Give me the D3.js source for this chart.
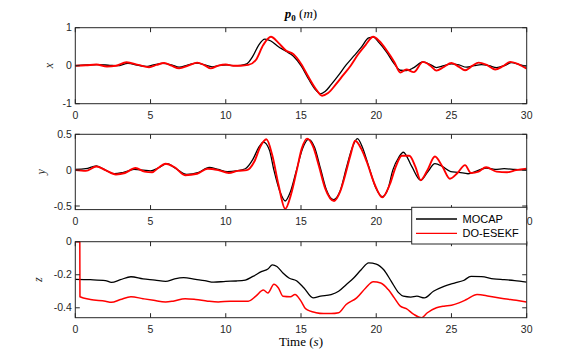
<!DOCTYPE html>
<html>
<head>
<meta charset="utf-8">
<script src="https://cdn.jsdelivr.net/npm/d3@7"></script>
<style>
  body { margin: 0; background: #fff; }
  svg { display: block; }
</style>
</head>
<body>
<div id="chart"></div>
<script>
// time axis
const xTicks = [0, 5, 10, 15, 20, 25, 30];

// x component
const mocapXt = [0,0.8,1.5,2.3,2.8,3.5,4.2,4.7,5.2,5.8,6.4,6.9,7.5,8.1,8.6,9.1,9.6,10.1,10.6,11,11.4,11.8,12.2,12.6,13.0,13.5,14.0,14.5,15.0,15.5,16.0,16.3,16.6,17.0,17.5,18.0,18.5,19.0,19.5,19.8,20.2,20.7,21.2,21.6,22.0,22.5,23.1,23.6,24.0,24.5,25.0,25.5,26.0,26.5,27.0,27.5,28.0,28.5,29.0,29.5,30];
const mocapX  = [0,0.02,0.03,0.01,0,0.06,0.01,-0.02,0.02,0.06,0.02,-0.04,0.02,0.07,0.02,-0.03,0.01,0.02,0,0.01,0.05,0.25,0.55,0.7,0.65,0.5,0.38,0.25,0.0,-0.35,-0.65,-0.74,-0.68,-0.5,-0.25,0.02,0.25,0.48,0.73,0.75,0.6,0.35,0.05,-0.12,-0.13,-0.05,0.1,0.03,-0.05,0.0,0.05,0.02,-0.04,0.0,0.03,0.0,-0.05,0.0,0.08,0.03,-0.01];
const ekfXt = [0,0.7,1.4,2.1,2.7,3.4,4.2,4.9,5.4,5.9,6.4,6.9,7.5,8.1,8.6,9.0,9.5,10.0,10.5,11.0,11.5,12.0,12.5,13.0,13.5,14.0,14.5,15.0,15.5,16.0,16.4,16.8,17.3,17.8,18.3,18.8,19.3,19.8,20.2,20.7,21.2,21.6,22.0,22.5,23.1,23.6,24.0,24.5,25.0,25.5,25.9,26.4,26.8,27.3,27.9,28.4,28.9,29.5,30];
const ekfX  = [0,0.01,0.03,-0.02,0.0,0.09,0.02,-0.04,0.02,0.07,0.0,-0.07,0.0,0.08,0.01,-0.07,0.0,0.03,0.0,0.0,0.02,0.15,0.55,0.76,0.6,0.4,0.3,0.05,-0.3,-0.62,-0.79,-0.72,-0.5,-0.25,0.0,0.3,0.55,0.76,0.65,0.4,0.1,-0.18,-0.1,-0.17,0.1,0.0,-0.13,-0.03,0.07,-0.03,-0.12,0.0,0.08,0.03,-0.1,-0.02,0.1,0.03,-0.08];

// y component
const mocapYt = [0,0.7,1.4,2.0,2.6,3.2,3.9,4.5,5.0,5.5,6.1,6.7,7.4,8.2,8.9,9.5,10.1,10.7,11.3,11.8,12.2,12.5,12.9,13.2,13.6,13.95,14.3,14.7,15.1,15.5,15.9,16.3,16.7,17.15,17.6,18.0,18.4,18.75,19.1,19.5,20.0,20.4,20.8,21.1,21.5,21.8,22.35,22.95,23.4,23.9,24.4,24.95,25.5,26.1,26.7,27.3,27.9,28.5,29.2,30];
const mocapY  = [0.01,0.02,0.06,0.0,-0.05,-0.03,0.01,0.0,-0.01,0.03,0.09,0.02,-0.06,-0.03,0.04,0.01,-0.02,-0.01,0.02,0.15,0.32,0.39,0.28,0.0,-0.3,-0.43,-0.3,0.0,0.3,0.43,0.32,0.02,-0.28,-0.41,-0.29,0.02,0.31,0.44,0.31,0.05,-0.26,-0.37,-0.25,0.0,0.18,0.25,0.055,-0.14,-0.03,0.09,0.05,-0.02,-0.03,-0.05,-0.01,0.03,0.01,0.02,0.01,0.0];
const ekfYt = [0,0.7,1.4,2.0,2.7,3.3,4.0,4.6,5.1,5.5,6.0,6.6,7.3,8.1,8.8,9.5,10.2,10.8,11.4,11.9,12.3,12.7,13.1,13.5,13.95,14.35,14.7,15.05,15.4,15.8,16.2,16.6,17.2,17.6,18.0,18.3,18.6,19.0,19.4,19.9,20.4,20.9,21.3,21.7,22.2,22.6,22.95,23.4,23.9,24.4,24.9,25.4,25.9,26.3,26.8,27.3,28.0,28.7,29.3,30];
const ekfY  = [0.0,-0.01,0.05,0.0,-0.06,-0.04,0.03,-0.02,-0.03,0.03,0.09,0.04,-0.07,-0.05,0.02,0.0,-0.04,-0.01,0.0,0.12,0.33,0.43,0.2,-0.2,-0.54,-0.33,-0.02,0.3,0.44,0.33,0.05,-0.25,-0.43,-0.3,-0.02,0.22,0.41,0.3,0.1,-0.2,-0.38,-0.2,0.05,0.2,0.2,0.05,-0.14,0.0,0.19,0.05,-0.12,-0.04,0.07,-0.04,-0.02,0.04,-0.02,-0.03,0.0,0.02];

// z component
const mocapZt = [0,1,2,2.4,3.0,3.7,4.5,5.3,6.0,6.6,7.2,8.0,8.6,9.2,10,10.7,11.3,11.8,12.4,12.8,13.1,13.4,13.8,14.2,14.7,15.2,15.8,16.3,17.0,17.5,18.0,18.5,19.0,19.5,20.0,20.5,21.0,21.5,21.8,22.3,22.7,23.2,23.8,24.5,25.2,25.8,26.3,27.0,27.8,28.5,29.2,30];
const mocapZ  = [-0.228,-0.23,-0.235,-0.246,-0.23,-0.212,-0.225,-0.232,-0.24,-0.225,-0.218,-0.228,-0.235,-0.245,-0.24,-0.238,-0.232,-0.21,-0.18,-0.165,-0.14,-0.15,-0.19,-0.22,-0.236,-0.28,-0.34,-0.33,-0.32,-0.3,-0.26,-0.22,-0.17,-0.128,-0.135,-0.17,-0.24,-0.31,-0.33,-0.335,-0.33,-0.34,-0.3,-0.27,-0.25,-0.235,-0.21,-0.212,-0.225,-0.23,-0.235,-0.245];
const ekfZt = [0,0.3,0.31,1,2,2.4,3,3.7,4.5,5.2,6,6.5,7.3,8,8.8,9.5,10.3,11,11.5,12,12.5,12.8,13.2,13.5,13.8,14.3,14.6,15.0,15.3,16.0,16.5,17.0,17.5,18,18.7,19.3,19.8,20.3,20.8,21.2,21.6,22.0,22.5,23.0,23.4,24,24.5,25,25.5,26,26.7,27.5,28.5,29.3,30];
const ekfZ  = [0,0,-0.333,-0.35,-0.36,-0.367,-0.35,-0.333,-0.345,-0.355,-0.365,-0.36,-0.345,-0.35,-0.36,-0.365,-0.36,-0.36,-0.36,-0.33,-0.293,-0.31,-0.258,-0.28,-0.33,-0.333,-0.32,-0.36,-0.405,-0.43,-0.435,-0.435,-0.43,-0.38,-0.34,-0.28,-0.243,-0.25,-0.29,-0.34,-0.39,-0.405,-0.44,-0.46,-0.43,-0.4,-0.39,-0.385,-0.37,-0.35,-0.32,-0.33,-0.345,-0.355,-0.365];

const seriesNames = ["MOCAP", "DO-ESEKF"];
const seriesColors = ["#000000", "#ff0000"];

const panels = [
  { label: "x", top: 27.7, bottom: 103.7, domain: [-1, 1], ticks: [-1, 0, 1], labelX: 53, redWidth: 1.9,
    series: [[mocapXt, mocapX], [ekfXt, ekfX]] },
  { label: "y", top: 134.3, bottom: 209.6, domain: [-0.55, 0.5], ticks: [-0.5, 0, 0.5], labelX: 45, redWidth: 1.9,
    series: [[mocapYt, mocapY], [ekfYt, ekfY]] },
  { label: "z", top: 241.7, bottom: 317.7, domain: [-0.46, 0], ticks: [-0.4, -0.2, 0], labelX: 42, redWidth: 1.5,
    series: [[mocapZt, mocapZ], [ekfZt, ekfZ]] }
];

const width = 581, height = 357;
const left = 75.3, right = 526.7;
const axisColor = "#262626";
const tickFont = "'Liberation Sans', Arial, sans-serif";
const serif = "'Liberation Serif', 'Times New Roman', serif";

const svg = d3.select("#chart").append("svg")
  .attr("width", width)
  .attr("height", height);

const x = d3.scaleLinear().domain([0, 30]).range([left, right]);
const fmt = d => (d === 0 ? "0" : String(d));

panels.forEach((p) => {
  const y = d3.scaleLinear().domain(p.domain).range([p.bottom, p.top]);
  const g = svg.append("g");

  // data lines
  const clipId = "clip-" + p.label;
  g.append("clipPath").attr("id", clipId)
    .append("rect")
    .attr("x", left).attr("y", p.top)
    .attr("width", right - left).attr("height", p.bottom - p.top);

  const line = d3.line()
    .x(d => x(d[0]))
    .y(d => y(d[1]))
    .curve(d3.curveMonotoneX);

  p.series.forEach(([ts, vs], i) => {
    g.append("path")
      .datum(ts.map((t, k) => [t, vs[k]]))
      .attr("clip-path", `url(#${clipId})`)
      .attr("fill", "none")
      .attr("stroke", seriesColors[i])
      .attr("stroke-width", i === 0 ? 1.3 : p.redWidth)
      .attr("stroke-linejoin", "round")
      .attr("d", line);
  });

  // box
  g.append("rect")
    .attr("x", left).attr("y", p.top)
    .attr("width", right - left).attr("height", p.bottom - p.top)
    .attr("fill", "none")
    .attr("stroke", axisColor)
    .attr("stroke-width", 1);

  // x ticks (inside, top and bottom)
  xTicks.forEach(t => {
    g.append("line")
      .attr("x1", x(t)).attr("x2", x(t))
      .attr("y1", p.bottom).attr("y2", p.bottom - 4.5)
      .attr("stroke", axisColor);
    g.append("line")
      .attr("x1", x(t)).attr("x2", x(t))
      .attr("y1", p.top).attr("y2", p.top + 4.5)
      .attr("stroke", axisColor);
    g.append("text")
      .attr("x", x(t)).attr("y", p.bottom + 15)
      .attr("text-anchor", "middle")
      .attr("font-family", tickFont)
      .attr("font-size", 10.5)
      .attr("fill", axisColor)
      .text(t);
  });

  // y ticks (inside, left and right)
  p.ticks.forEach(v => {
    g.append("line")
      .attr("x1", left).attr("x2", left + 4.5)
      .attr("y1", y(v)).attr("y2", y(v))
      .attr("stroke", axisColor);
    g.append("line")
      .attr("x1", right).attr("x2", right - 4.5)
      .attr("y1", y(v)).attr("y2", y(v))
      .attr("stroke", axisColor);
    g.append("text")
      .attr("x", left - 3.5).attr("y", y(v))
      .attr("dy", "0.35em")
      .attr("text-anchor", "end")
      .attr("font-family", tickFont)
      .attr("font-size", 10.5)
      .attr("fill", axisColor)
      .text(fmt(v));
  });

  // y label
  g.append("text")
    .attr("transform", `translate(${p.labelX},${(p.top + p.bottom) / 2}) rotate(-90)`)
    .attr("text-anchor", "middle")
    .attr("font-family", serif)
    .attr("font-style", "italic")
    .attr("font-size", 12)
    .attr("fill", axisColor)
    .text(p.label);
});

// title
const title = svg.append("text")
  .attr("x", 301).attr("y", 18)
  .attr("text-anchor", "middle")
  .attr("font-family", serif)
  .attr("font-size", 13)
  .attr("fill", "#000");
title.append("tspan").attr("font-weight", "bold").attr("font-style", "italic").text("p");
title.append("tspan").attr("font-size", 9).attr("dy", 2.5).attr("font-weight", "bold").text("0");
title.append("tspan").attr("dy", -2.5).text(" (");
title.append("tspan").attr("font-style", "italic").text("m");
title.append("tspan").text(")");

// x label
const xl = svg.append("text")
  .attr("x", 301).attr("y", 346)
  .attr("text-anchor", "middle")
  .attr("font-family", serif)
  .attr("font-size", 13)
  .attr("fill", "#000");
xl.append("tspan").text("Time (");
xl.append("tspan").attr("font-style", "italic").text("s");
xl.append("tspan").text(")");

// legend
const lg = svg.append("g");
lg.append("rect")
  .attr("x", 411.7).attr("y", 207.3)
  .attr("width", 115).attr("height", 36.7)
  .attr("fill", "#fff")
  .attr("stroke", axisColor)
  .attr("stroke-width", 1);
seriesNames.forEach((name, i) => {
  const yy = 219 + i * 14.3;
  lg.append("line")
    .attr("x1", 416).attr("x2", 457)
    .attr("y1", yy).attr("y2", yy)
    .attr("stroke", seriesColors[i])
    .attr("stroke-width", 1.3);
  lg.append("text")
    .attr("x", 462.5).attr("y", yy)
    .attr("dy", "0.36em")
    .attr("font-family", tickFont)
    .attr("font-size", 11)
    .attr("fill", "#000")
    .text(name);
});
</script>
</body>
</html>
